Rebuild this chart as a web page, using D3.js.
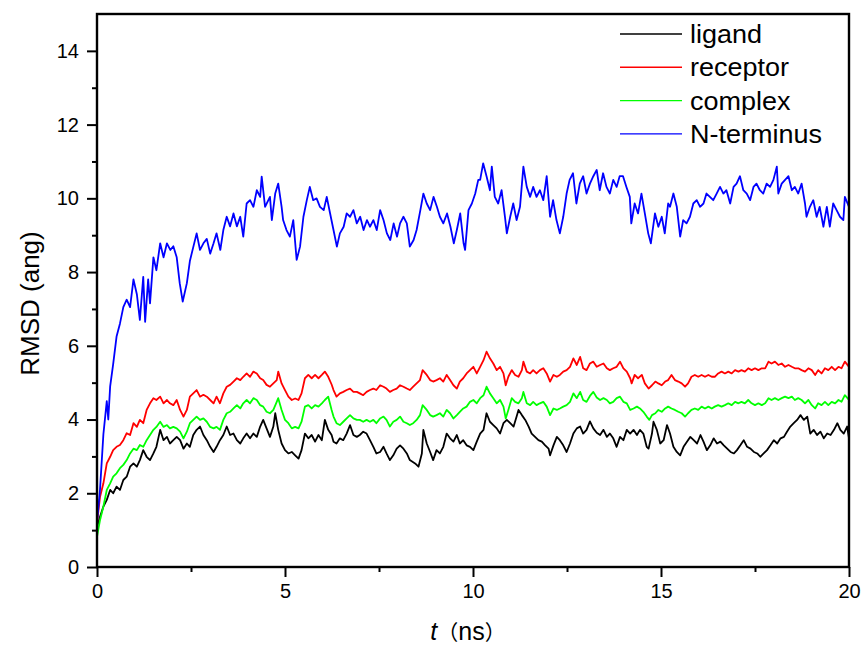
<!DOCTYPE html>
<html>
<head>
<meta charset="utf-8">
<script src="https://cdn.jsdelivr.net/npm/d3@7"></script>
<style>
  body { margin: 0; background: #fff; }
  text { font-family: "Liberation Sans", Arial, sans-serif; fill: #000; }
</style>
</head>
<body>
<div id="chart"></div>
<script>
var width = 865,
    height = 651;
var margin = {top: 14, right: 16, bottom: 84, left: 97},
    graphWidth = width - margin.left - margin.right,
    graphHeight = height - margin.top - margin.bottom;

// series: [time (ns), RMSD (ang)]
var ligand = [[0,1.09],[0.08,1.36],[0.17,1.64],[0.26,1.82],[0.35,2.09],[0.43,2.0],[0.52,2.18],[0.61,2.09],[0.7,2.36],[0.79,2.45],[0.88,2.72],[0.97,2.81],[1.06,2.72],[1.14,2.9],[1.23,3.17],[1.32,2.99],[1.41,2.9],[1.5,3.08],[1.58,3.26],[1.68,3.72],[1.77,3.44],[1.86,3.53],[1.94,3.35],[2.03,3.44],[2.12,3.53],[2.21,3.44],[2.3,3.21],[2.39,3.35],[2.47,3.26],[2.56,3.58],[2.65,3.72],[2.74,3.81],[2.83,3.58],[2.92,3.44],[3.01,3.26],[3.1,3.12],[3.18,3.26],[3.27,3.44],[3.36,3.58],[3.45,3.81],[3.54,3.58],[3.63,3.62],[3.72,3.44],[3.81,3.35],[3.89,3.49],[3.98,3.62],[4.07,3.49],[4.16,3.62],[4.25,3.53],[4.34,3.81],[4.42,3.99],[4.51,3.76],[4.6,3.53],[4.69,3.81],[4.74,4.17],[4.82,3.72],[4.91,3.35],[5.0,3.17],[5.09,3.08],[5.18,3.12],[5.27,3.03],[5.36,2.94],[5.44,3.17],[5.53,3.62],[5.62,3.49],[5.71,3.58],[5.8,3.4],[5.89,3.58],[5.98,3.44],[6.06,3.99],[6.15,3.72],[6.24,3.58],[6.29,3.4],[6.37,3.35],[6.46,3.49],[6.55,3.44],[6.64,3.62],[6.73,3.85],[6.82,3.58],[6.91,3.53],[6.99,3.58],[7.08,3.67],[7.17,3.62],[7.26,3.44],[7.35,3.26],[7.43,3.08],[7.53,3.12],[7.62,3.26],[7.7,3.08],[7.79,2.9],[7.88,3.03],[7.97,3.21],[8.06,3.3],[8.15,3.21],[8.24,3.08],[8.32,2.9],[8.46,2.81],[8.55,2.72],[8.64,3.08],[8.68,3.72],[8.77,3.35],[8.86,3.12],[8.94,2.9],[9.03,3.17],[9.12,3.08],[9.21,3.26],[9.3,3.62],[9.39,3.49],[9.48,3.4],[9.57,3.58],[9.65,3.35],[9.74,3.44],[9.83,3.3],[9.92,3.26],[10.01,3.17],[10.1,3.4],[10.19,3.62],[10.28,3.72],[10.36,4.17],[10.45,3.94],[10.54,3.85],[10.63,3.76],[10.72,3.62],[10.81,3.9],[10.9,3.99],[10.99,3.9],[11.08,3.81],[11.16,4.08],[11.21,4.26],[11.3,4.12],[11.39,3.99],[11.48,3.81],[11.56,3.62],[11.65,3.53],[11.74,3.44],[11.83,3.4],[11.92,3.3],[12.01,3.21],[12.05,3.03],[12.14,3.3],[12.23,3.53],[12.31,3.44],[12.4,3.3],[12.49,3.12],[12.58,3.35],[12.67,3.62],[12.76,3.76],[12.85,3.81],[12.93,3.62],[13.02,3.72],[13.11,3.95],[13.2,3.76],[13.29,3.64],[13.38,3.58],[13.47,3.72],[13.56,3.53],[13.64,3.62],[13.73,3.49],[13.82,3.26],[13.91,3.53],[14.0,3.44],[14.09,3.72],[14.18,3.62],[14.27,3.72],[14.36,3.58],[14.44,3.72],[14.53,3.62],[14.62,3.26],[14.67,3.21],[14.76,3.62],[14.8,3.94],[14.89,3.72],[14.98,3.35],[15.07,3.44],[15.16,3.85],[15.24,3.62],[15.33,3.26],[15.42,3.12],[15.51,3.03],[15.6,3.26],[15.69,3.4],[15.78,3.53],[15.87,3.44],[15.96,3.35],[16.05,3.58],[16.13,3.4],[16.22,3.17],[16.31,3.3],[16.4,3.49],[16.49,3.35],[16.58,3.4],[16.67,3.3],[16.76,3.21],[16.85,3.12],[16.94,3.08],[17.02,3.17],[17.11,3.3],[17.2,3.44],[17.29,3.26],[17.38,3.21],[17.47,3.12],[17.56,3.08],[17.64,2.99],[17.73,3.08],[17.82,3.17],[17.91,3.3],[18.0,3.44],[18.09,3.35],[18.18,3.49],[18.27,3.53],[18.35,3.67],[18.44,3.81],[18.53,3.9],[18.62,3.99],[18.71,4.12],[18.8,3.99],[18.89,4.08],[18.97,3.62],[19.06,3.72],[19.15,3.58],[19.24,3.67],[19.33,3.49],[19.42,3.62],[19.51,3.58],[19.6,3.72],[19.69,3.9],[19.77,3.72],[19.86,3.62],[19.95,3.81],[20.0,3.49]];

var receptor = [[0,1.18],[0.08,1.9],[0.17,2.27],[0.26,2.81],[0.35,2.99],[0.43,3.17],[0.52,3.26],[0.61,3.31],[0.7,3.44],[0.79,3.63],[0.88,3.58],[0.97,3.9],[1.06,3.8],[1.14,3.99],[1.23,3.9],[1.32,4.26],[1.41,4.44],[1.5,4.58],[1.58,4.53],[1.68,4.62],[1.77,4.44],[1.86,4.53],[1.94,4.44],[2.03,4.39],[2.12,4.53],[2.21,4.26],[2.3,4.08],[2.39,4.26],[2.47,4.62],[2.56,4.71],[2.65,4.8],[2.74,4.62],[2.83,4.67],[2.92,4.62],[3.01,4.53],[3.1,4.44],[3.18,4.62],[3.27,4.44],[3.36,4.71],[3.45,4.89],[3.54,4.94],[3.63,5.03],[3.72,5.12],[3.81,5.07],[3.89,5.16],[3.98,5.25],[4.07,5.16],[4.16,5.3],[4.25,5.25],[4.34,5.12],[4.42,5.07],[4.51,4.94],[4.6,4.89],[4.69,4.98],[4.78,5.07],[4.82,5.3],[4.91,4.98],[5.0,4.8],[5.09,4.62],[5.18,4.53],[5.27,4.57],[5.36,4.53],[5.44,4.71],[5.53,5.12],[5.62,5.21],[5.71,5.12],[5.8,5.21],[5.89,5.12],[5.98,5.21],[6.06,5.3],[6.15,5.16],[6.24,4.95],[6.29,4.8],[6.37,4.62],[6.46,4.71],[6.55,4.75],[6.64,4.8],[6.73,4.84],[6.82,4.75],[6.91,4.75],[6.99,4.71],[7.08,4.66],[7.17,4.75],[7.26,4.8],[7.35,4.84],[7.43,4.8],[7.53,4.93],[7.62,4.89],[7.7,4.84],[7.79,4.75],[7.88,4.8],[7.97,4.84],[8.06,4.93],[8.15,4.89],[8.24,4.84],[8.32,4.8],[8.41,4.89],[8.5,4.98],[8.59,5.07],[8.66,5.34],[8.77,5.21],[8.86,5.07],[8.94,5.03],[9.03,5.07],[9.12,5.12],[9.21,5.03],[9.3,5.21],[9.39,5.07],[9.48,4.93],[9.57,4.84],[9.65,5.03],[9.74,5.12],[9.83,5.25],[9.92,5.34],[10.01,5.43],[10.1,5.25],[10.19,5.43],[10.28,5.61],[10.36,5.84],[10.45,5.66],[10.54,5.52],[10.63,5.34],[10.72,5.43],[10.81,5.25],[10.87,4.93],[10.94,5.16],[11.03,5.34],[11.12,5.21],[11.21,5.16],[11.3,5.34],[11.34,5.57],[11.43,5.3],[11.52,5.25],[11.6,5.34],[11.69,5.25],[11.78,5.34],[11.87,5.39],[11.96,5.25],[12.05,5.03],[12.14,5.21],[12.23,5.16],[12.31,5.21],[12.4,5.3],[12.49,5.34],[12.58,5.43],[12.67,5.66],[12.76,5.48],[12.85,5.7],[12.93,5.39],[13.02,5.34],[13.11,5.52],[13.2,5.57],[13.29,5.43],[13.38,5.48],[13.47,5.52],[13.56,5.39],[13.64,5.34],[13.73,5.39],[13.82,5.43],[13.91,5.57],[14.0,5.39],[14.09,5.3],[14.18,5.12],[14.22,4.98],[14.3,5.21],[14.39,5.12],[14.49,5.21],[14.57,4.98],[14.67,4.84],[14.76,4.93],[14.85,5.03],[14.93,4.98],[15.02,4.93],[15.11,5.03],[15.19,5.07],[15.28,5.21],[15.37,5.07],[15.46,5.03],[15.55,4.98],[15.64,4.89],[15.72,4.98],[15.81,5.16],[15.9,5.21],[15.99,5.16],[16.08,5.21],[16.17,5.16],[16.26,5.21],[16.35,5.16],[16.43,5.16],[16.52,5.25],[16.61,5.3],[16.7,5.25],[16.79,5.3],[16.88,5.25],[16.97,5.34],[17.06,5.3],[17.14,5.34],[17.23,5.3],[17.32,5.39],[17.41,5.34],[17.5,5.39],[17.59,5.34],[17.68,5.39],[17.77,5.39],[17.86,5.57],[17.94,5.52],[18.03,5.57],[18.12,5.48],[18.21,5.52],[18.3,5.43],[18.39,5.48],[18.48,5.43],[18.56,5.39],[18.65,5.39],[18.74,5.34],[18.83,5.3],[18.92,5.39],[19.01,5.34],[19.1,5.21],[19.18,5.34],[19.27,5.25],[19.36,5.39],[19.45,5.34],[19.54,5.43],[19.63,5.34],[19.72,5.43],[19.8,5.39],[19.89,5.57],[20.0,5.43]];

var complex = [[0,0.82],[0.08,1.27],[0.17,1.64],[0.26,2.09],[0.35,2.27],[0.43,2.45],[0.52,2.54],[0.61,2.68],[0.7,2.77],[0.79,2.9],[0.88,3.08],[0.97,3.21],[1.06,3.17],[1.14,3.31],[1.23,3.26],[1.32,3.44],[1.41,3.58],[1.5,3.72],[1.58,3.8],[1.68,3.94],[1.77,3.8],[1.86,3.85],[1.94,3.76],[2.03,3.8],[2.12,3.76],[2.21,3.67],[2.3,3.49],[2.39,3.67],[2.47,3.9],[2.56,3.99],[2.65,4.08],[2.74,3.99],[2.83,4.03],[2.92,3.94],[3.01,3.8],[3.1,3.76],[3.18,3.8],[3.27,3.72],[3.36,3.99],[3.45,4.17],[3.54,4.21],[3.63,4.3],[3.72,4.39],[3.81,4.3],[3.89,4.44],[3.98,4.53],[4.07,4.44],[4.16,4.58],[4.25,4.53],[4.34,4.39],[4.42,4.35],[4.51,4.21],[4.6,4.17],[4.69,4.26],[4.78,4.48],[4.82,4.58],[4.91,4.26],[5.0,3.99],[5.09,3.9],[5.18,3.76],[5.27,3.8],[5.36,3.76],[5.44,3.94],[5.53,4.35],[5.62,4.39],[5.71,4.3],[5.8,4.39],[5.89,4.35],[5.98,4.44],[6.06,4.53],[6.15,4.62],[6.24,4.26],[6.29,4.08],[6.37,3.9],[6.46,3.85],[6.55,3.94],[6.64,4.03],[6.73,4.12],[6.82,4.03],[6.91,3.99],[6.99,3.99],[7.08,3.94],[7.17,3.99],[7.26,3.94],[7.35,3.99],[7.43,3.9],[7.53,4.03],[7.62,4.08],[7.7,3.99],[7.79,3.81],[7.88,3.94],[7.97,3.99],[8.06,4.08],[8.15,3.94],[8.24,3.9],[8.32,3.85],[8.41,3.9],[8.5,3.99],[8.59,4.12],[8.66,4.39],[8.77,4.26],[8.86,4.12],[8.94,4.08],[9.03,4.12],[9.12,4.17],[9.21,4.08],[9.3,4.26],[9.39,4.17],[9.48,4.03],[9.57,4.12],[9.65,4.21],[9.74,4.3],[9.83,4.35],[9.92,4.48],[10.01,4.53],[10.1,4.44],[10.19,4.58],[10.28,4.66],[10.36,4.89],[10.45,4.71],[10.54,4.58],[10.63,4.44],[10.72,4.53],[10.81,4.35],[10.87,4.03],[10.94,4.26],[11.03,4.58],[11.12,4.48],[11.21,4.44],[11.3,4.58],[11.34,4.75],[11.43,4.44],[11.52,4.39],[11.6,4.48],[11.69,4.39],[11.78,4.44],[11.87,4.48],[11.96,4.35],[12.05,4.12],[12.14,4.3],[12.23,4.26],[12.31,4.3],[12.4,4.35],[12.49,4.39],[12.58,4.48],[12.67,4.71],[12.76,4.58],[12.85,4.75],[12.93,4.53],[13.02,4.48],[13.11,4.64],[13.2,4.75],[13.29,4.6],[13.38,4.53],[13.47,4.58],[13.56,4.53],[13.64,4.44],[13.73,4.48],[13.82,4.58],[13.91,4.62],[14.0,4.48],[14.09,4.44],[14.18,4.26],[14.27,4.3],[14.36,4.35],[14.44,4.3],[14.53,4.21],[14.62,4.08],[14.69,3.99],[14.76,4.12],[14.85,4.17],[14.93,4.26],[15.02,4.21],[15.11,4.3],[15.19,4.35],[15.28,4.3],[15.37,4.26],[15.46,4.21],[15.55,4.17],[15.64,4.08],[15.72,4.17],[15.81,4.26],[15.9,4.3],[15.99,4.26],[16.08,4.35],[16.17,4.3],[16.26,4.35],[16.35,4.3],[16.43,4.35],[16.52,4.39],[16.61,4.35],[16.7,4.39],[16.79,4.44],[16.88,4.39],[16.97,4.48],[17.06,4.44],[17.14,4.48],[17.23,4.44],[17.32,4.53],[17.41,4.44],[17.5,4.39],[17.59,4.44],[17.68,4.39],[17.77,4.44],[17.86,4.58],[17.94,4.53],[18.03,4.58],[18.12,4.53],[18.21,4.58],[18.3,4.62],[18.39,4.58],[18.48,4.62],[18.56,4.53],[18.65,4.58],[18.74,4.53],[18.83,4.44],[18.92,4.53],[19.01,4.39],[19.1,4.3],[19.18,4.44],[19.27,4.39],[19.36,4.48],[19.45,4.39],[19.54,4.48],[19.63,4.44],[19.72,4.53],[19.8,4.48],[19.89,4.66],[20.0,4.53]];

var nterminus = [[0,1.2],[0.08,2.1],[0.17,3.6],[0.26,4.5],[0.3,4.0],[0.35,4.9],[0.43,5.5],[0.52,6.25],[0.61,6.6],[0.7,7.05],[0.79,7.25],[0.88,7.05],[0.97,7.8],[1.06,7.4],[1.14,6.7],[1.23,7.87],[1.28,6.65],[1.36,7.8],[1.41,7.15],[1.5,8.4],[1.58,8.05],[1.68,8.78],[1.77,8.4],[1.86,8.78],[1.95,8.6],[2.03,8.7],[2.12,8.4],[2.2,7.7],[2.28,7.2],[2.39,7.7],[2.47,8.3],[2.65,9.05],[2.74,8.6],[2.83,8.78],[2.92,8.9],[3.01,8.5],[3.1,8.78],[3.18,9.05],[3.28,8.6],[3.36,9.14],[3.45,9.5],[3.54,9.24],[3.63,9.59],[3.72,9.24],[3.81,9.5],[3.89,8.96],[3.98,9.86],[4.07,9.95],[4.16,9.77],[4.25,10.22],[4.34,10.04],[4.38,10.59],[4.47,9.77],[4.6,10.04],[4.65,9.41],[4.74,10.13],[4.82,10.4],[4.91,9.77],[4.95,9.41],[5.04,9.14],[5.13,8.96],[5.22,9.41],[5.31,8.33],[5.4,8.69],[5.49,9.5],[5.58,9.95],[5.66,10.31],[5.75,9.95],[5.84,10.0],[5.93,9.77],[6.03,9.68],[6.11,10.04],[6.2,9.59],[6.29,9.14],[6.38,8.69],[6.46,9.05],[6.56,9.23],[6.64,9.59],[6.73,9.5],[6.82,9.68],[6.91,9.32],[7.0,9.5],[7.09,9.14],[7.18,9.41],[7.26,9.23],[7.35,9.41],[7.44,9.14],[7.53,9.68],[7.62,9.41],[7.71,9.05],[7.8,8.87],[7.89,9.32],[7.98,8.96],[8.06,9.32],[8.15,9.5],[8.24,9.32],[8.32,8.69],[8.42,8.87],[8.5,9.14],[8.6,9.68],[8.68,10.13],[8.77,9.86],[8.86,9.68],[8.95,10.04],[9.04,9.77],[9.12,9.5],[9.21,9.32],[9.31,9.59],[9.4,9.23],[9.49,8.78],[9.57,9.14],[9.66,9.59],[9.75,8.78],[9.79,8.6],[9.88,9.68],[9.97,9.86],[10.06,10.13],[10.14,10.5],[10.19,10.5],[10.27,10.95],[10.36,10.6],[10.45,10.22],[10.5,10.86],[10.58,10.04],[10.67,9.86],[10.76,10.22],[10.85,9.5],[10.9,9.05],[10.99,9.5],[11.07,9.86],[11.16,9.41],[11.25,9.77],[11.34,10.86],[11.43,10.31],[11.52,10.04],[11.6,10.31],[11.69,10.04],[11.78,10.22],[11.87,9.95],[11.96,10.6],[12.05,9.5],[12.13,9.95],[12.22,9.41],[12.31,9.05],[12.4,9.5],[12.49,10.13],[12.57,10.5],[12.66,10.68],[12.75,9.86],[12.84,10.4],[12.93,10.6],[13.02,10.13],[13.11,10.4],[13.2,10.6],[13.29,10.77],[13.37,10.22],[13.46,10.68],[13.55,10.31],[13.64,10.13],[13.73,10.5],[13.82,10.31],[13.9,10.6],[13.99,10.6],[14.08,10.31],[14.17,10.04],[14.21,9.32],[14.3,9.86],[14.39,9.59],[14.48,10.13],[14.57,9.59],[14.66,9.05],[14.73,8.78],[14.84,9.59],[14.93,9.23],[15.02,9.5],[15.1,9.05],[15.19,9.86],[15.24,9.77],[15.33,10.13],[15.42,9.77],[15.51,8.96],[15.59,9.41],[15.68,9.32],[15.77,9.5],[15.86,9.86],[15.95,9.95],[16.04,9.77],[16.13,9.86],[16.21,10.13],[16.3,10.04],[16.39,9.95],[16.48,10.13],[16.57,10.31],[16.66,10.13],[16.74,10.22],[16.84,9.86],[16.93,10.31],[17.01,10.4],[17.1,10.6],[17.19,10.22],[17.28,10.13],[17.37,9.95],[17.46,10.31],[17.54,10.4],[17.63,10.22],[17.72,10.13],[17.81,10.4],[17.9,10.31],[17.99,10.5],[18.08,10.86],[18.12,10.13],[18.21,10.4],[18.3,10.5],[18.39,10.6],[18.48,10.22],[18.56,10.31],[18.65,10.13],[18.74,10.4],[18.83,9.86],[18.87,9.5],[18.96,9.77],[19.05,9.95],[19.14,9.5],[19.22,9.77],[19.32,9.23],[19.41,9.77],[19.49,9.23],[19.58,9.86],[19.67,9.68],[19.76,9.5],[19.85,9.41],[19.89,10.04],[20.0,9.77]];

var seriesNames = ["ligand", "receptor", "complex", "N-terminus"];
var seriesColors = ["#000000", "#ff0000", "#00ff00", "#0000ff"];
var seriesData = [ligand, receptor, complex, nterminus];

var xTicks = [0, 5, 10, 15, 20];
var xMinorTicks = [2.5, 7.5, 12.5, 17.5];
var yTicks = [0, 2, 4, 6, 8, 10, 12, 14];
var yMinorTicks = [1, 3, 5, 7, 9, 11, 13];

var svg = d3.select("#chart").append("svg")
  .attr("width", width)
  .attr("height", height);

var g = svg.append("g")
  .attr("transform", "translate(" + margin.left + "," + margin.top + ")");

var xScale = d3.scaleLinear().domain([0, 20]).range([0, graphWidth]);
var yScale = d3.scaleLinear().domain([0, 15]).range([graphHeight, 0]);

g.append("clipPath").attr("id", "plotClip")
  .append("rect").attr("width", graphWidth).attr("height", graphHeight);

var line = d3.line()
  .x(function(d) { return xScale(d[0]); })
  .y(function(d) { return yScale(d[1]); });

//curves
g.append("g").attr("clip-path", "url(#plotClip)")
  .selectAll("path")
  .data(seriesData)
  .enter().append("path")
    .attr("d", line)
    .attr("fill", "none")
    .attr("stroke", function(d, i) { return seriesColors[i]; })
    .attr("stroke-width", 1.8)
    .attr("stroke-linejoin", "round");

//frame
g.append("rect")
  .attr("width", graphWidth)
  .attr("height", graphHeight)
  .attr("fill", "none")
  .attr("stroke", "#000")
  .attr("stroke-width", 2.4);

//axes
var yAxis = g.append("g")
  .call(d3.axisLeft(yScale).tickValues(yTicks).tickSize(10).tickPadding(8).tickFormat(d3.format("d")));
var yMinor = g.append("g")
  .call(d3.axisLeft(yScale).tickValues(yMinorTicks).tickSize(5).tickFormat(""));
var xAxis = g.append("g")
  .attr("transform", "translate(0," + graphHeight + ")")
  .call(d3.axisBottom(xScale).tickValues(xTicks).tickSize(10).tickPadding(7).tickFormat(d3.format("d")));
var xMinor = g.append("g")
  .attr("transform", "translate(0," + graphHeight + ")")
  .call(d3.axisBottom(xScale).tickValues(xMinorTicks).tickSize(5).tickFormat(""));

[yAxis, yMinor, xAxis, xMinor].forEach(function(a) {
  a.select(".domain").remove();
  a.selectAll("line").attr("stroke", "#000").attr("stroke-width", 2);
  a.selectAll("text")
    .attr("font-family", "'Liberation Sans', Arial, sans-serif")
    .attr("font-size", 20)
    .attr("fill", "#000");
});

//axis titles
svg.append("text")
  .attr("text-anchor", "middle")
  .attr("font-size", 26)
  .attr("transform", "translate(39," + (margin.top + graphHeight / 2 + 13) + ") rotate(-90)")
  .text("RMSD (ang)");

var xTitle = svg.append("text")
  .attr("text-anchor", "middle")
  .attr("font-size", 25)
  .attr("x", margin.left + graphWidth / 2 - 5)
  .attr("y", 640);
xTitle.append("tspan").attr("font-style", "italic").text("t");
xTitle.append("tspan").attr("font-family", "'Noto Sans CJK SC', sans-serif").attr("font-size", 21).text("（");
xTitle.append("tspan").text("ns");
xTitle.append("tspan").attr("font-family", "'Noto Sans CJK SC', sans-serif").attr("font-size", 21).text("）");

//legend
var legend = svg.append("g").attr("transform", "translate(620,34)");
var items = legend.selectAll("g")
  .data(seriesNames)
  .enter().append("g")
    .attr("transform", function(d, i) { return "translate(0," + (i * 33.3) + ")"; });
items.append("line")
  .attr("x1", 0).attr("x2", 62)
  .attr("stroke", function(d, i) { return seriesColors[i]; })
  .attr("stroke-width", 1.4);
items.append("text")
  .attr("font-size", 25)
  .attr("transform", "translate(70,9) scale(1.08,1)")
  .text(function(d) { return d; });
</script>
</body>
</html>
